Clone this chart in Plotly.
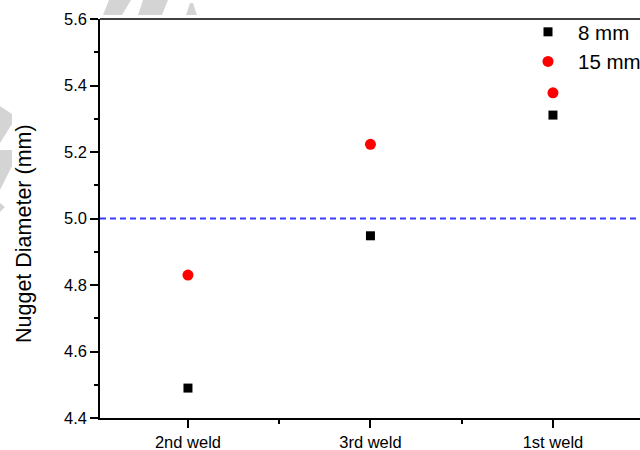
import plotly.graph_objects as go

# Weld order along the x axis and measured nugget diameters (mm)
categories = ["2nd weld", "3rd weld", "1st weld"]
positions = [1, 2, 3]
diam_8mm = [4.49, 4.948, 5.311]
diam_15mm = [4.83, 5.223, 5.378]
threshold = 5.0
y_ticks = [4.4, 4.6, 4.8, 5.0, 5.2, 5.4, 5.6]

W, H = 640, 450
L, T, B, R = 100, 19, 32, 0
pw, ph = W - L - R, H - T - B

FONT = "Arial, Liberation Sans, sans-serif"

fig = go.Figure()
fig.add_trace(go.Scatter(
    x=positions, y=diam_8mm, mode="markers", name="8 mm",
    marker=dict(symbol="square", size=9, color="black"),
))
fig.add_trace(go.Scatter(
    x=positions, y=diam_15mm, mode="markers", name="15 mm",
    marker=dict(symbol="circle", size=11, color="#ff0000"),
))

# reference level
fig.add_shape(type="line", xref="x domain", yref="y", x0=0, x1=1,
              y0=threshold, y1=threshold,
              line=dict(color="#3b3bff", width=2, dash="6px,4px"))


def px(x, y):
    return (x - L) / pw, (H - B - y) / ph


def poly(pts):
    d = ""
    for i, (x, y) in enumerate(pts):
        u, v = px(x, y)
        d += ("M" if i == 0 else "L") + f"{u:.4f},{v:.4f} "
    return d + "Z"


# faint diagonal watermark fragments
wm = [
    [(109, 0), (131, 0), (122, 15), (103, 15)],
    [(143, 0), (168, 0), (162, 15), (138, 15)],
    [(190, 3), (193, 3), (197, 15), (186, 15)],
    [(0, 106), (12, 114), (12, 124), (0, 143)],
    [(0, 150), (12, 150), (12, 166), (0, 190)],
    [(0, 203), (5, 207), (0, 212)],
]
for p in wm:
    fig.add_shape(type="path", xref="paper", yref="paper", path=poly(p),
                  fillcolor="#d4d4d4", line=dict(width=0), layer="below")

fig.add_annotation(
    text="Nugget Diameter (mm)", xref="paper", yref="paper",
    x=(24 - L) / pw, y=(H - B - 234) / ph, textangle=-90,
    showarrow=False, xanchor="center", yanchor="middle",
    font=dict(family=FONT, size=21.5, color="black"),
)

fig.update_layout(
    width=W, height=H,
    margin=dict(l=L, r=R, t=T, b=B, pad=0, autoexpand=False),
    paper_bgcolor="white", plot_bgcolor="white",
    font=dict(family=FONT, color="black"),
    showlegend=True,
    legend=dict(
        x=(518 - L) / pw, y=(H - B - 12) / ph, xanchor="left", yanchor="top",
        bgcolor="rgba(0,0,0,0)", font=dict(family=FONT, size=20.5),
        itemwidth=50, tracegroupgap=0,
    ),
    xaxis=dict(
        range=[0.518, 0.518 + pw / 182.5],
        tickmode="array", tickvals=positions, ticktext=categories,
        ticks="outside", ticklen=8, tickwidth=1.5, tickcolor="black",
        tickfont=dict(family=FONT, size=16.5, color="black"),
        showline=True, linecolor="black", linewidth=1.5, mirror=False,
        showgrid=False, zeroline=False,
        minor=dict(tickmode="array", tickvals=[1.5, 2.5], ticks="outside",
                   ticklen=4, tickwidth=1.5, tickcolor="black"),
    ),
    yaxis=dict(
        range=[4.4, 5.6], tickmode="array", tickvals=y_ticks,
        ticktext=[f"{v:.1f}" for v in y_ticks],
        ticks="outside", ticklen=8, tickwidth=1.5, tickcolor="black",
        tickfont=dict(family=FONT, size=16.5, color="black"),
        showline=True, linecolor="black", linewidth=1.5, mirror=False,
        showgrid=False, zeroline=False,
        minor=dict(dtick=0.1, ticks="outside", ticklen=4, tickwidth=1.5,
                   tickcolor="black"),
    ),
)

# top border line of the frame
fig.add_shape(type="line", xref="x domain", yref="y domain", x0=0, x1=1,
              y0=1, y1=1, line=dict(color="black", width=1.5))

fig.write_html("out.html")
